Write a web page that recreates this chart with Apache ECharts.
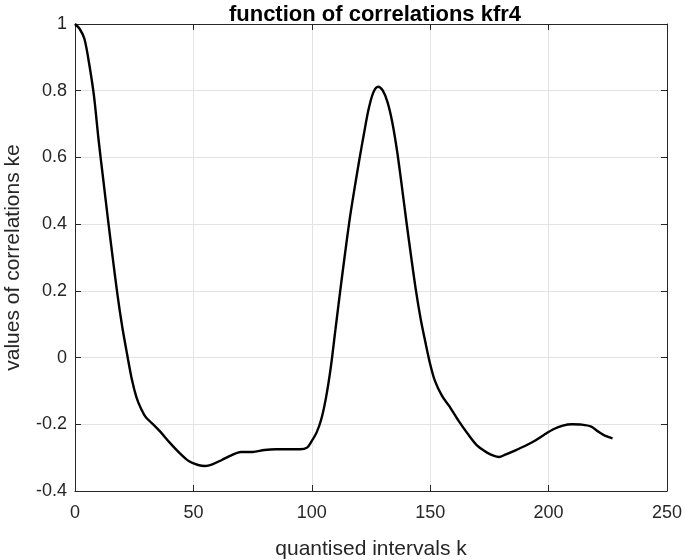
<!DOCTYPE html>
<html><head><meta charset="utf-8">
<script src="https://cdn.jsdelivr.net/npm/echarts@6/dist/echarts.min.js"></script>
<style>html,body{margin:0;padding:0;background:#fff}#c{width:685px;height:560px}</style>
</head><body><div id="c"></div>
<script>
const kValues = [0,2,4,6,8,10,12,14,16,18,20,22,24,26,28,30,33,36,40,44,48,52,55,58,62,66,70,75,80,85,90,95,98,100,102,104,106,108,110,112,114,116,118,120,122,124,126,128,130,132,134,136,138,140,142,144,146,148,150,152,155,158,162,166,170,174,177,179,182,186,190,194,198,202,206,210,214,218,221,224,227];
const corrValues = [1.0,0.985,0.955,0.88,0.785,0.65,0.53,0.41,0.295,0.185,0.09,0.01,-0.065,-0.12,-0.155,-0.18,-0.20,-0.222,-0.255,-0.285,-0.31,-0.322,-0.325,-0.32,-0.307,-0.293,-0.283,-0.283,-0.277,-0.275,-0.275,-0.275,-0.27,-0.25,-0.225,-0.185,-0.12,-0.03,0.085,0.2,0.31,0.415,0.505,0.59,0.67,0.745,0.795,0.812,0.80,0.765,0.705,0.62,0.515,0.405,0.3,0.2,0.115,0.045,-0.02,-0.07,-0.115,-0.145,-0.19,-0.23,-0.265,-0.285,-0.295,-0.298,-0.29,-0.278,-0.265,-0.25,-0.232,-0.215,-0.204,-0.2,-0.201,-0.207,-0.222,-0.235,-0.242];
const titleText = 'function of correlations kfr4';
const xName = 'quantised intervals k';
const yName = 'values of correlations ke';

const data = kValues.map((k,i)=>[k, corrValues[i]]);
const font = 'Liberation Sans, Arial, sans-serif';
const axisLine = {show:true, onZero:false, lineStyle:{color:'#262626', width:1}};
const tick = {show:true, inside:true, length:6, lineStyle:{color:'#262626'}};
const chart = echarts.init(document.getElementById('c'), null, {renderer:'canvas'});
chart.setOption({
  animation:false,
  backgroundColor:'#fff',
  title:{text:titleText, left:370, top:-1, textAlign:'center',
    textStyle:{fontFamily:font, fontSize:22, fontWeight:'bold', color:'#000'}},
  grid:{left:75, right:18, top:24, bottom:69, containLabel:false, outerBoundsMode:'none'},
  xAxis:[
    {type:'value', min:0, max:250, interval:50, position:'bottom',
     name:xName, nameLocation:'middle', nameGap:48,
     nameTextStyle:{fontFamily:font, fontSize:21, color:'#262626'},
     axisLine:axisLine, axisTick:tick,
     axisLabel:{fontFamily:font, fontSize:18, color:'#262626', margin:13},
     splitLine:{show:true, lineStyle:{color:'#e3e3e3', width:1}}},
    {type:'value', min:0, max:250, interval:50, position:'top',
     axisLine:axisLine, axisTick:tick,
     axisLabel:{show:false}, splitLine:{show:false}}
  ],
  yAxis:[
    {type:'value', min:-0.4, max:1, interval:0.2, position:'left',
     name:yName, nameLocation:'middle', nameGap:51, nameRotate:90,
     nameTextStyle:{fontFamily:font, fontSize:21, color:'#262626'},
     axisLine:axisLine, axisTick:tick,
     axisLabel:{fontFamily:font, fontSize:18, color:'#262626', margin:8,
       formatter:v=>{const r=Math.round(v*10)/10; return String(r);}},
     splitLine:{show:true, lineStyle:{color:'#e3e3e3', width:1}}},
    {type:'value', min:-0.4, max:1, interval:0.2, position:'right',
     axisLine:axisLine, axisTick:tick,
     axisLabel:{show:false}, splitLine:{show:false}}
  ],
  series:[{type:'line', data:data, xAxisIndex:0, yAxisIndex:0, smooth:0.3,
    showSymbol:false, lineStyle:{color:'#000', width:2.4}}]
});
</script></body></html>
